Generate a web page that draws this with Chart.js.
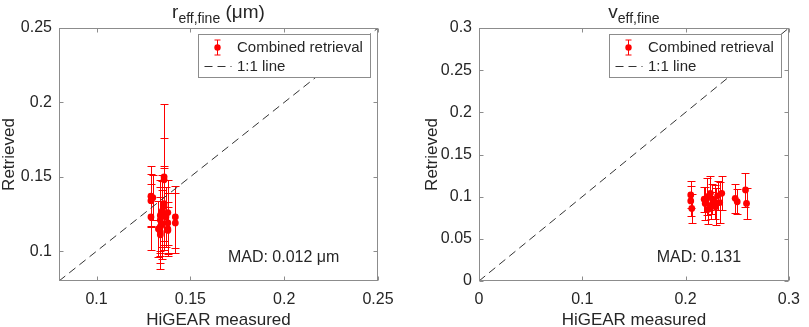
<!DOCTYPE html>
<html>
<head>
<meta charset="utf-8">
<script src="https://cdn.jsdelivr.net/npm/chart.js"></script>
<style>
    body { margin: 0; background: #ffffff; }
    .panel { position: absolute; top: 0; height: 327px; }
    #left { left: 0; width: 405px; }
    #right { left: 405px; width: 404px; }
</style>
</head>
<body>
<div class="panel" id="left"><canvas id="rChart" width="405" height="327"></canvas></div>
<div class="panel" id="right"><canvas id="vChart" width="404" height="327"></canvas></div>

<script>
    // left panel: fine mode effective radius (um), HiGEAR vs retrieval
    const rMeasured  = [0.129, 0.129, 0.129, 0.130, 0.134, 0.134, 0.134, 0.134, 0.134, 0.135, 0.135, 0.136,
                        0.136, 0.136, 0.136, 0.137, 0.138, 0.138, 0.138, 0.138, 0.142, 0.142, 0.133, 0.135];
    const rRetrieved = [0.137, 0.134, 0.123, 0.136, 0.124, 0.121, 0.1165, 0.113, 0.111, 0.127, 0.125, 0.150,
                        0.148, 0.130, 0.132, 0.123, 0.126, 0.119, 0.115, 0.114, 0.123, 0.119, 0.115, 0.118];
    const rError     = [0.020, 0.018, 0.022, 0.015, 0.024, 0.022, 0.020, 0.021, 0.023, 0.024, 0.022, 0.049,
                        0.028, 0.026, 0.025, 0.020, 0.022, 0.020, 0.018, 0.016, 0.021, 0.020, 0.019, 0.023];
    const rLimits = [0.08, 0.25];
    const rTicks  = [0.1, 0.15, 0.2, 0.25];

    // right panel: fine mode effective variance
    const vMeasured  = [0.205, 0.205, 0.206, 0.218, 0.219, 0.221, 0.222, 0.224, 0.225, 0.226,
                        0.228, 0.229, 0.231, 0.233, 0.235, 0.248, 0.250, 0.258, 0.259];
    const vRetrieved = [0.102, 0.095, 0.086, 0.097, 0.092, 0.100, 0.085, 0.104, 0.090, 0.097,
                        0.094, 0.088, 0.101, 0.093, 0.104, 0.098, 0.094, 0.108, 0.092];
    const vError     = [0.016, 0.018, 0.017, 0.015, 0.020, 0.022, 0.017, 0.020, 0.016, 0.018,
                        0.020, 0.022, 0.017, 0.024, 0.020, 0.017, 0.015, 0.020, 0.018];
    const vLimits = [0, 0.3];
    const vXTicks = [0, 0.1, 0.2, 0.3];
    const vYTicks = [0, 0.05, 0.1, 0.15, 0.2, 0.25, 0.3];

    const legendLabels = ['Combined retrieval', '1:1 line'];

    const FONT = "'Liberation Sans', Arial, Helvetica, sans-serif";
    const AXIS_GREY = '#8c8c8c';
    const TEXT = '#262626';

    const fmt = v => String(+Number(v).toFixed(3));

    // matlab style box, inside ticks, error bars, legend, title and MAD note
    const matlabAxes = {
        id: 'matlabAxes',
        beforeDatasetsDraw(chart) {
            const { ctx, scales } = chart;
            ctx.save();
            chart.data.datasets.forEach((ds, i) => {
                if (!ds.errors) return;
                const meta = chart.getDatasetMeta(i);
                ctx.strokeStyle = ds.borderColor;
                ctx.lineWidth = 1;
                meta.data.forEach((pt, j) => {
                    const v = ds.data[j].y, e = ds.errors[j];
                    const y1 = Math.round(scales.y.getPixelForValue(v + e)) + 0.5;
                    const y2 = Math.round(scales.y.getPixelForValue(v - e)) + 0.5;
                    const x = Math.round(pt.x) + 0.5;
                    ctx.beginPath();
                    ctx.moveTo(x, y1); ctx.lineTo(x, y2);
                    ctx.moveTo(x - 4, y1); ctx.lineTo(x + 4, y1);
                    ctx.moveTo(x - 4, y2); ctx.lineTo(x + 4, y2);
                    ctx.stroke();
                });
            });
            ctx.restore();
        },
        afterDraw(chart, args, opts) {
            const { ctx, chartArea: a, scales } = chart;
            ctx.save();

            // box + ticks
            ctx.strokeStyle = AXIS_GREY;
            ctx.lineWidth = 1;
            const L = Math.round(a.left) + 0.5, R = Math.round(a.right) - 0.5;
            const T = Math.round(a.top) + 0.5, B = Math.round(a.bottom) - 0.5;
            ctx.strokeRect(L, T, R - L, B - T);
            ctx.beginPath();
            scales.x.ticks.forEach(t => {
                const x = Math.round(scales.x.getPixelForValue(t.value)) + 0.5;
                ctx.moveTo(x, B); ctx.lineTo(x, B - 4);
                ctx.moveTo(x, T); ctx.lineTo(x, T + 4);
            });
            scales.y.ticks.forEach(t => {
                const y = Math.round(scales.y.getPixelForValue(t.value)) + 0.5;
                ctx.moveTo(L, y); ctx.lineTo(L + 4, y);
                ctx.moveTo(R, y); ctx.lineTo(R - 4, y);
            });
            ctx.stroke();

            // title with subscript
            const parts = opts.title;
            let w = 0;
            parts.forEach(p => { ctx.font = p.size + 'px ' + FONT; p.w = ctx.measureText(p.text).width; w += p.w; });
            let tx = (a.left + a.right) / 2 - w / 2;
            ctx.fillStyle = TEXT;
            ctx.textBaseline = 'alphabetic';
            ctx.textAlign = 'left';
            parts.forEach(p => {
                ctx.font = p.size + 'px ' + FONT;
                ctx.fillText(p.text, tx, p.sub ? 23 : 18);
                tx += p.w;
            });

            // legend
            const bw = 172, bh = 43;
            const bx = Math.round(a.right - 8 - bw) + 0.5, by = Math.round(a.top + 6) + 0.5;
            ctx.fillStyle = '#ffffff';
            ctx.fillRect(bx, by, bw, bh);
            ctx.strokeStyle = AXIS_GREY;
            ctx.strokeRect(bx, by, bw, bh);
            const r1 = by + 13, r2 = by + 32;
            const mx = bx + 19;
            ctx.strokeStyle = '#ff0000';
            ctx.beginPath();
            ctx.moveTo(mx, r1 - 7.5); ctx.lineTo(mx, r1 + 7.5);
            ctx.moveTo(mx - 3, r1 - 7.5); ctx.lineTo(mx + 3, r1 - 7.5);
            ctx.moveTo(mx - 3, r1 + 7.5); ctx.lineTo(mx + 3, r1 + 7.5);
            ctx.stroke();
            ctx.fillStyle = '#ff0000';
            ctx.beginPath(); ctx.arc(mx, r1, 3.2, 0, Math.PI * 2); ctx.fill();
            ctx.strokeStyle = '#333333';
            ctx.setLineDash([8, 5]);
            ctx.beginPath(); ctx.moveTo(bx + 6, r2); ctx.lineTo(bx + 33, r2); ctx.stroke();
            ctx.setLineDash([]);
            ctx.fillStyle = TEXT;
            ctx.font = '15px ' + FONT;
            ctx.textBaseline = 'middle';
            ctx.fillText(legendLabels[0], bx + 38.5, r1);
            ctx.fillText(legendLabels[1], bx + 38.5, r2);

            // MAD note, placed in data coordinates
            const n = opts.note;
            ctx.font = '16px ' + FONT;
            ctx.fillText(n.text, scales.x.getPixelForValue(n.x), scales.y.getPixelForValue(n.y));
            ctx.restore();
        }
    };

    function makePanel(id, o) {
        const points = o.measured.map((m, i) => ({ x: m, y: o.retrieved[i] }));
        const oneToOne = [{ x: o.limits[0], y: o.limits[0] }, { x: o.limits[1], y: o.limits[1] }];
        const tickFont = { family: FONT, size: 16 };
        return new Chart(document.getElementById(id), {
            type: 'scatter',
            data: {
                datasets: [
                    {
                        type: 'line', label: legendLabels[1], data: oneToOne,
                        borderColor: '#333333', borderWidth: 1, borderDash: [8, 5],
                        pointRadius: 0, fill: false
                    },
                    {
                        label: legendLabels[0], data: points, errors: o.errors,
                        backgroundColor: '#ff0000', borderColor: '#ff0000',
                        pointRadius: 3.4, borderWidth: 0
                    }
                ]
            },
            options: {
                responsive: false,
                animation: false,
                layout: { padding: { top: 28, right: o.padRight, left: 0, bottom: 0 } },
                plugins: {
                    legend: { display: false },
                    tooltip: { enabled: false },
                    matlabAxes: { title: o.title, note: o.note }
                },
                scales: {
                    x: {
                        type: 'linear', min: o.limits[0], max: o.limits[1],
                        afterBuildTicks: s => { s.ticks = o.xTicks.map(v => ({ value: v })); },
                        afterFit: s => { s.height = 46; },
                        grid: { display: false, drawTicks: false },
                        border: { display: false },
                        ticks: { autoSkip: false, maxRotation: 0, padding: 9, color: TEXT, font: tickFont, callback: fmt },
                        title: { display: true, text: 'HiGEAR measured', color: TEXT,
                                 font: { family: FONT, size: 17, lineHeight: 0.8 }, padding: 0 }
                    },
                    y: {
                        type: 'linear', min: o.limits[0], max: o.limits[1],
                        afterBuildTicks: s => { s.ticks = o.yTicks.map(v => ({ value: v })); },
                        afterFit: s => { s.width = o.axisWidth; },
                        grid: { display: false, drawTicks: false },
                        border: { display: false },
                        ticks: { autoSkip: false, padding: 7, color: TEXT, font: tickFont, callback: fmt },
                        title: { display: true, text: 'Retrieved', color: TEXT,
                                 font: { family: FONT, size: 17, lineHeight: 1 }, padding: { top: o.titlePad } }
                    }
                }
            },
            plugins: [matlabAxes]
        });
    }

    makePanel('rChart', {
        measured: rMeasured, retrieved: rRetrieved, errors: rError,
        limits: rLimits, xTicks: rTicks, yTicks: rTicks,
        axisWidth: 59, padRight: 27, titlePad: 0.5,
        title: [{ text: 'r', size: 19 }, { text: 'eff,fine', size: 14, sub: true }, { text: ' (\u03bcm)', size: 19 }],
        note: { text: 'MAD: 0.012 \u03bcm', x: 0.170, y: 0.096 }
    });

    makePanel('vChart', {
        measured: vMeasured, retrieved: vRetrieved, errors: vError,
        limits: vLimits, xTicks: vXTicks, yTicks: vYTicks,
        axisWidth: 74, padRight: 11, titlePad: 18.5,
        title: [{ text: 'v', size: 19 }, { text: 'eff,fine', size: 14, sub: true }],
        note: { text: 'MAD: 0.131', x: 0.172, y: 0.028 }
    });
</script>
</body>
</html>
